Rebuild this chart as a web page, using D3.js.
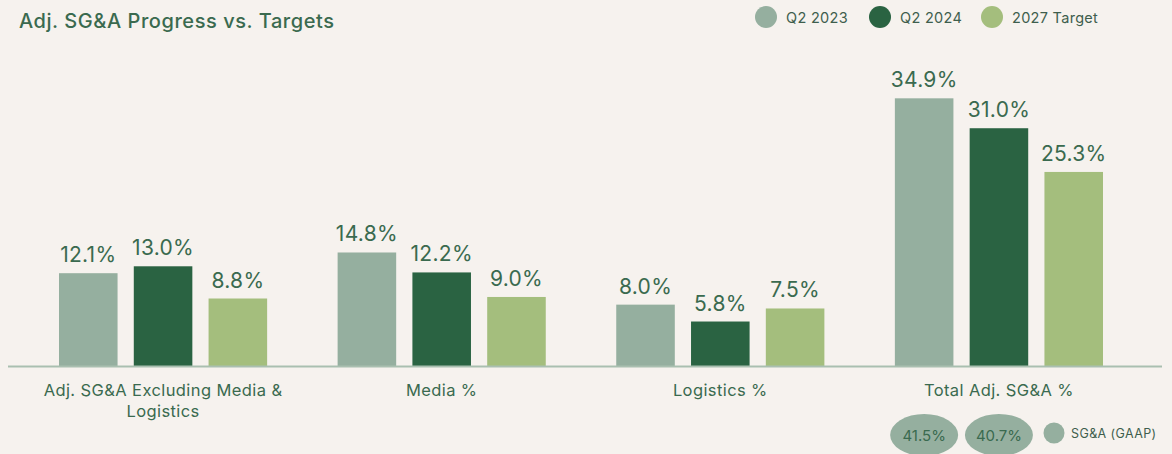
<!DOCTYPE html>
<html>
<head>
<meta charset="utf-8">
<script src="https://cdn.jsdelivr.net/npm/d3@7"></script>
<style>
  html, body { margin: 0; padding: 0; background: #f6f2ee; }
  svg { display: block; }
  text { font-family: Inter, "Noto Sans", sans-serif; }
</style>
</head>
<body>
<svg id="chart" width="1172" height="454"></svg>
<script>
// Adjusted SG&A as a share of revenue, by component
const categories = [
  ["Adj. SG&A Excluding Media &", "Logistics"],
  ["Media %"],
  ["Logistics %"],
  ["Total Adj. SG&A %"]
];
const seriesNames = ["Q2 2023", "Q2 2024", "2027 Target"];
const q2_2023 = [12.1, 14.8, 8.0, 34.9];
const q2_2024 = [13.0, 12.2, 5.8, 31.0];
const target2027 = [8.8, 9.0, 7.5, 25.3];
const gaapLabel = "SG&A (GAAP)";
const gaapValues = [41.5, 40.7];   // GAAP SG&A for Q2 2023, Q2 2024

const colors = ["#95af9f", "#2a6342", "#a4be7d"];
const textColor = "#3a6a4f";

const svg = d3.select("#chart");
const baseY = 366;

const catKeys = categories.map((c, i) => i);
const x0 = d3.scaleBand().domain(catKeys).range([59, 1103]).paddingInner(0.253).paddingOuter(0);
const x1 = d3.scaleBand().domain(seriesNames).range([0, x0.bandwidth()]).paddingInner(0.217).paddingOuter(0);
const y = d3.scaleLinear().domain([0, 40]).range([baseY, 59.2]);

const series = [q2_2023, q2_2024, target2027];
const rows = catKeys.map(i => seriesNames.map((s, j) => ({ cat: i, name: s, value: series[j][i], color: colors[j] })));

// Title
svg.append("text")
  .attr("x", 19).attr("y", 28)
  .attr("fill", textColor)
  .attr("font-size", 20)
  .attr("font-weight", 500)
  .attr("letter-spacing", 0.55)
  .text("Adj. SG&A Progress vs. Targets");

// Legend
const legendX = [766, 880, 992];
const lg = svg.append("g").attr("class", "legend");
seriesNames.forEach((s, j) => {
  lg.append("circle").attr("cx", legendX[j]).attr("cy", 17).attr("r", 11).attr("fill", colors[j]);
  lg.append("text").attr("x", legendX[j] + 20).attr("y", 22.5)
    .attr("fill", "#3e5e4d").attr("font-size", 14.5).attr("letter-spacing", 0.3).text(s);
});

// Bars
const groups = svg.append("g").selectAll("g").data(rows).join("g")
  .attr("transform", d => `translate(${x0(d[0].cat)},0)`);

groups.selectAll("rect").data(d => d).join("rect")
  .attr("x", d => x1(d.name))
  .attr("y", d => y(d.value))
  .attr("width", x1.bandwidth())
  .attr("height", d => baseY - y(d.value))
  .attr("fill", d => d.color);

groups.selectAll("text.val").data(d => d).join("text")
  .attr("class", "val")
  .attr("x", d => x1(d.name) + x1.bandwidth() / 2)
  .attr("y", d => y(d.value) - 11)
  .attr("text-anchor", "middle")
  .attr("fill", textColor)
  .attr("font-size", 21)
  .attr("font-weight", 400)
  .attr("letter-spacing", 0.3)
  .text(d => d.value.toFixed(1) + "%");

// Baseline axis
svg.append("line")
  .attr("x1", 8).attr("x2", 1162)
  .attr("y1", baseY + 0.5).attr("y2", baseY + 0.5)
  .attr("stroke", "#a9bfb0").attr("stroke-width", 2);

// Category labels
const catLabels = svg.append("g").selectAll("text").data(categories).join("text")
  .attr("x", (d, i) => x0(i) + x0.bandwidth() / 2)
  .attr("y", 396)
  .attr("text-anchor", "middle")
  .attr("fill", textColor)
  .attr("font-size", 16.5)
  .attr("letter-spacing", 0.4);
catLabels.selectAll("tspan").data(d => d).join("tspan")
  .attr("x", function () { return d3.select(this.parentNode).attr("x"); })
  .attr("dy", (d, k) => k === 0 ? 0 : 21)
  .text(d => d);

// GAAP SG&A ovals under the total group
const totalX = x0(3);
const gaapG = svg.append("g");
gaapValues.forEach((v, j) => {
  const cx = totalX + x1(seriesNames[j]) + x1.bandwidth() / 2;
  gaapG.append("ellipse").attr("cx", cx).attr("cy", 435).attr("rx", 34).attr("ry", 21).attr("fill", colors[0]);
  gaapG.append("text").attr("x", cx).attr("y", 441).attr("text-anchor", "middle")
    .attr("fill", "#3a6a4f").attr("font-size", 15).text(v.toFixed(1) + "%");
});
gaapG.append("circle").attr("cx", 1054).attr("cy", 433).attr("r", 10.5).attr("fill", colors[0]);
gaapG.append("text").attr("x", 1071).attr("y", 437.5).attr("fill", "#3e5e4d")
  .attr("font-size", 12.5).attr("letter-spacing", 0.4).text(gaapLabel);
</script>
</body>
</html>
